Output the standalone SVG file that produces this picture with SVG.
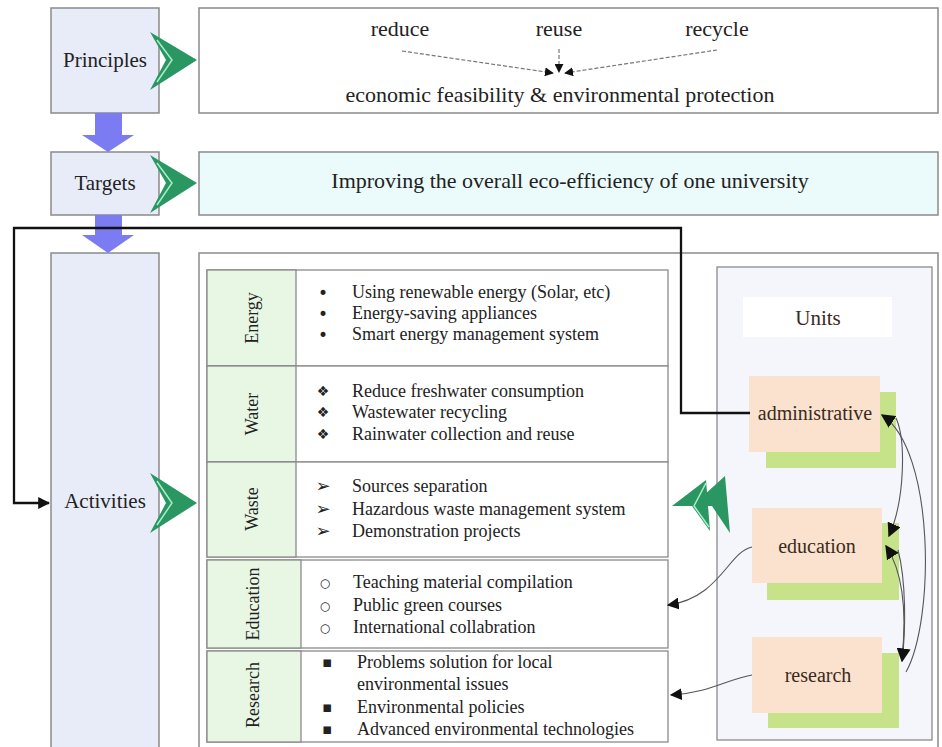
<svg xmlns="http://www.w3.org/2000/svg" width="942" height="747" viewBox="0 0 942 747" font-family="'Liberation Serif', 'Times New Roman', serif">
<style>
text{font-family:"Liberation Serif","Times New Roman",serif;fill:#222}
.stage{fill:#e8ecf8;stroke:#8a8a8a;stroke-width:1.5}
.panel{stroke:#8a8a8a;stroke-width:1.5}
.lbl{font-size:21px;text-anchor:middle}
.big{font-size:22px;text-anchor:middle}
.cat{fill:#e8f7e4;stroke:#8a8a8a;stroke-width:1.3}
.row{fill:#fff;stroke:#8a8a8a;stroke-width:1.3}
.item{font-size:18px}
.rot{font-size:18px;text-anchor:middle}
.bul{font-family:"DejaVu Sans",sans-serif;text-anchor:middle;fill:#222}
.b1{font-size:17px}
.b2{font-size:14px}
.b3{font-size:18px}
.b4{font-size:12px}
.b5{font-size:15px}
.unit{fill:#fbe2cf}
.shadow{fill:#c6e38a}
.utext{font-size:20px;text-anchor:middle;fill:#3a2a20}
.chev{fill:#2a9662}
.chevl{fill:none;stroke:#a8ecc8;stroke-width:1.5}
.blue{fill:#7b7cf2}
.dash{fill:none;stroke:#777;stroke-width:1.2;stroke-dasharray:4 2}
.thin{fill:none;stroke:#555;stroke-width:1.1}
</style>
<defs>
<marker id="ah" viewBox="0 0 10 10" refX="9" refY="5" markerWidth="12" markerHeight="12" markerUnits="userSpaceOnUse" orient="auto">
<path d="M0,0 L10,5 L0,10 Z" fill="#111"/>
</marker>
<marker id="ahs" viewBox="0 0 10 10" refX="9" refY="5" markerWidth="9" markerHeight="9" markerUnits="userSpaceOnUse" orient="auto">
<path d="M0,0 L10,5 L0,10 Z" fill="#111"/>
</marker>
<marker id="ahb" viewBox="0 0 10 10" refX="9" refY="5" markerWidth="14" markerHeight="14" markerUnits="userSpaceOnUse" orient="auto">
<path d="M0,0 L10,5 L0,10 Z" fill="#111"/>
</marker>
</defs>

<g id="principles">
<rect class="stage" x="51" y="8" width="108" height="105"/>
<text class="lbl" x="105" y="67">Principles</text>
</g>
<g id="principles-content">
<rect class="panel" x="199" y="8" width="739" height="105" fill="#fff"/>
<text class="big" x="400" y="36">reduce</text>
<text class="big" x="559" y="36">reuse</text>
<text class="big" x="717" y="36">recycle</text>
<text class="big" x="560" y="102">economic feasibility &amp; environmental protection</text>
</g>

<g id="targets">
<rect class="stage" x="51" y="152" width="108" height="63"/>
<text class="lbl" x="105" y="190">Targets</text>
</g>
<g id="targets-content">
<rect class="panel" x="199" y="152" width="739" height="63" fill="#ebfbfb"/>
<text class="big" x="570" y="188">Improving the overall eco-efficiency of one university</text>
</g>

<g id="activities">
<rect class="stage" x="51" y="253" width="108" height="500"/>
<text class="lbl" x="105" y="508">Activities</text>
</g>
<g id="activities-content">
<rect class="panel" x="199" y="253" width="739" height="500" fill="#fff"/>
</g>

<g id="table">
<rect class="row" x="207" y="270" width="461" height="96"/>
<rect class="cat" x="207" y="270" width="89" height="96"/>
<text class="rot" transform="rotate(-90 258 318)" x="258" y="318">Energy</text>
<text class="bul b1" x="323" y="299">•</text>
<text class="bul b1" x="323" y="320">•</text>
<text class="bul b1" x="323" y="341">•</text>
<text class="item" x="352" y="298">Using renewable energy (Solar, etc)</text>
<text class="item" x="352" y="319">Energy-saving appliances</text>
<text class="item" x="352" y="340">Smart energy management system</text>

<rect class="row" x="207" y="366" width="461" height="96"/>
<rect class="cat" x="207" y="366" width="89" height="96"/>
<text class="rot" transform="rotate(-90 258 414)" x="258" y="414">Water</text>
<text class="bul b2" x="323" y="396">❖</text>
<text class="bul b2" x="323" y="417">❖</text>
<text class="bul b2" x="323" y="439">❖</text>
<text class="item" x="352" y="397">Reduce freshwater consumption</text>
<text class="item" x="352" y="418">Wastewater recycling</text>
<text class="item" x="352" y="440">Rainwater collection and reuse</text>

<rect class="row" x="207" y="462" width="461" height="95"/>
<rect class="cat" x="207" y="462" width="89" height="95"/>
<text class="rot" transform="rotate(-90 258 509)" x="258" y="509">Waste</text>
<text class="bul b3" x="323" y="492">➢</text>
<text class="bul b3" x="323" y="515">➢</text>
<text class="bul b3" x="323" y="537">➢</text>
<text class="item" x="352" y="492">Sources separation</text>
<text class="item" x="352" y="515">Hazardous waste management system</text>
<text class="item" x="352" y="537">Demonstration projects</text>

<rect class="row" x="207" y="560" width="461" height="88"/>
<rect class="cat" x="207" y="560" width="94" height="88"/>
<text class="rot" transform="rotate(-90 259 604)" x="259" y="604">Education</text>
<text class="bul b4" x="325" y="587">○</text>
<text class="bul b4" x="325" y="610">○</text>
<text class="bul b4" x="325" y="632">○</text>
<text class="item" x="353" y="588">Teaching material compilation</text>
<text class="item" x="353" y="611">Public green courses</text>
<text class="item" x="353" y="633">International collabration</text>

<rect class="row" x="207" y="651" width="461" height="91"/>
<rect class="cat" x="207" y="651" width="94" height="91"/>
<text class="rot" transform="rotate(-90 259 695)" x="259" y="695">Research</text>
<text class="bul b5" x="327" y="667">▪</text>
<text class="bul b5" x="327" y="712">▪</text>
<text class="bul b5" x="327" y="734">▪</text>
<text class="item" x="357" y="668">Problems solution for local</text>
<text class="item" x="357" y="690">environmental issues</text>
<text class="item" x="357" y="713">Environmental policies</text>
<text class="item" x="357" y="735">Advanced environmental technologies</text>
</g>

<g id="units">
<rect x="717" y="267" width="215" height="473" fill="#f4f6fb" stroke="#8a8a8a" stroke-width="1.3"/>
<rect x="743" y="297" width="149" height="40" fill="#fff"/>
<text class="utext" x="818" y="325" style="font-size:21px">Units</text>
</g>
<g id="administrative">
<rect class="shadow" x="766" y="392" width="130" height="76"/>
<rect class="unit" x="749" y="376" width="131" height="76"/>
<text class="utext" x="815" y="420">administrative</text>
</g>
<g id="education">
<rect class="shadow" x="767" y="523" width="132" height="77"/>
<rect class="unit" x="752" y="508" width="130" height="75"/>
<text class="utext" x="817" y="553">education</text>
</g>
<g id="research">
<rect class="shadow" x="768" y="653" width="131" height="75"/>
<rect class="unit" x="752" y="637" width="130" height="76"/>
<text class="utext" x="818" y="682">research</text>
</g>

<g id="connectors">
<polygon class="blue" points="95,113 122,113 122,135 134,135 108,152 82,135 95,135"/>
<polygon class="blue" points="95,215 122,215 122,235 134,235 108,253 82,235 95,235"/>
<polygon class="chev" points="150,32 197,60 150,90 166,60"/>
<polyline class="chevl" points="157,40 172,60 157,82"/>
<polygon class="chev" points="150,155 197,183 150,213 166,183"/>
<polyline class="chevl" points="157,163 172,183 157,205"/>
<polygon class="chev" points="150,473 197,503 150,533 166,503"/>
<polyline class="chevl" points="157,481 172,503 157,525"/>
<polygon class="chev" points="692,506 725,476 730,533 712,506"/>
<polygon class="chev" points="672,506 706,480 710,531 692,506"/>
<polyline class="chevl" points="706,483 694,506 709,527"/>
<path class="dash" d="M402,51 L553,73" marker-end="url(#ahs)"/>
<path class="dash" d="M559,49 L559,72" marker-end="url(#ahs)"/>
<path class="dash" d="M717,50 L565,73" marker-end="url(#ahs)"/>
<path d="M750,413 L681,413 L681,228 L14,228 L14,503 L49,503" fill="none" stroke="#111" stroke-width="2.3" marker-end="url(#ah)"/>
<path class="thin" d="M752,547 C728,552 720,598 668,605" marker-end="url(#ah)"/>
<path class="thin" d="M752,675 C725,680 712,692 671,695" marker-end="url(#ah)"/>
<path class="thin" d="M896,418 C906,440 905,500 889,536" marker-end="url(#ahb)"/>
<path class="thin" d="M902,658 C906,620 905,575 886,546" marker-end="url(#ahb)"/>
<path class="thin" d="M898,550 C906,580 906,630 902,661" marker-end="url(#ahb)"/>
<path class="thin" d="M906,672 C935,620 935,450 882,415" marker-end="url(#ahb)"/>
</g>
</svg>
